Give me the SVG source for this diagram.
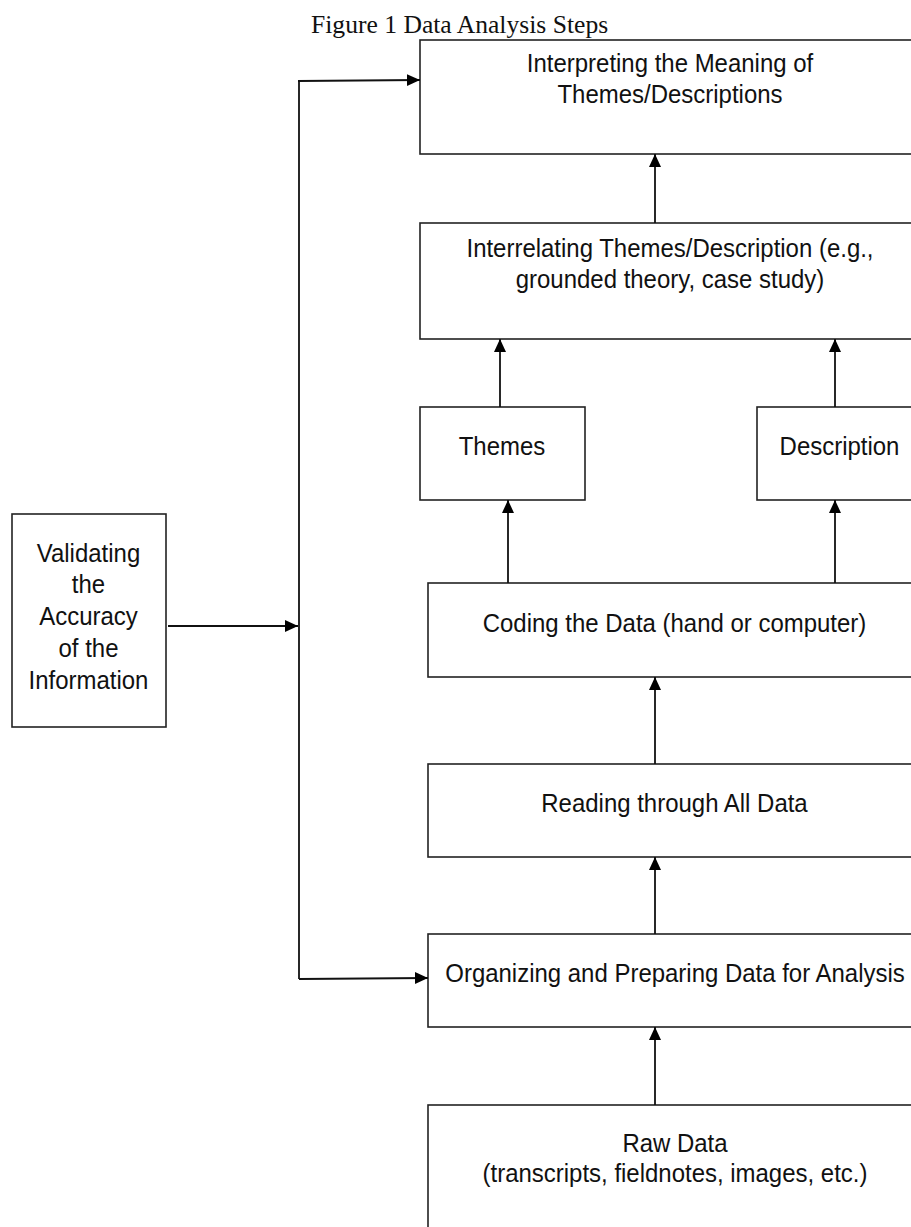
<svg xmlns="http://www.w3.org/2000/svg" width="911" height="1227" viewBox="0 0 911 1227">
<defs>
<marker id="ah" markerUnits="userSpaceOnUse" markerWidth="14" markerHeight="13" refX="13" refY="6" orient="auto">
<path d="M0,0 L13,6 L0,12 Z" fill="#000"/>
</marker>
<style>
.box{fill:#fff;stroke:#222;stroke-width:1.6}
.t{font-family:"Liberation Sans",Arial,sans-serif;font-size:25.5px;fill:#111;text-anchor:middle}
.c{fill:none;stroke:#111;stroke-width:1.8}
.title{font-family:"Liberation Serif","Times New Roman",serif;font-size:25.6px;fill:#111}
</style>
</defs>
<rect width="911" height="1227" fill="#fff"/>
<text class="title" x="311" y="33">Figure 1 Data Analysis Steps</text>
<g id="interpreting"><rect class="box" x="420" y="40" width="510" height="114"/><g transform="translate(670 0) scale(0.94 1)"><text class="t" x="0" y="72">Interpreting the Meaning of</text><text class="t" x="0" y="103">Themes/Descriptions</text></g></g>
<g id="interrelating"><rect class="box" x="420" y="223" width="510" height="116"/><g transform="translate(670 0) scale(0.94 1)"><text class="t" x="0" y="257">Interrelating Themes/Description (e.g.,</text><text class="t" x="0" y="288">grounded theory, case study)</text></g></g>
<g id="themes"><rect class="box" x="420" y="407" width="165" height="93"/><g transform="translate(502 0) scale(0.94 1)"><text class="t" x="0" y="455">Themes</text></g></g>
<g id="description"><rect class="box" x="757" y="407" width="173" height="93"/><g transform="translate(839.5 0) scale(0.94 1)"><text class="t" x="0" y="455">Description</text></g></g>
<g id="coding"><rect class="box" x="428" y="583" width="502" height="94"/><g transform="translate(674.5 0) scale(0.94 1)"><text class="t" x="0" y="632">Coding the Data (hand or computer)</text></g></g>
<g id="reading"><rect class="box" x="428" y="764" width="502" height="93"/><g transform="translate(674.5 0) scale(0.94 1)"><text class="t" x="0" y="812">Reading through All Data</text></g></g>
<g id="organizing"><rect class="box" x="428" y="934" width="502" height="93"/><g transform="translate(675 0) scale(0.94 1)"><text class="t" x="0" y="982">Organizing and Preparing Data for Analysis</text></g></g>
<g id="raw"><rect class="box" x="428" y="1105" width="502" height="140"/><g transform="translate(675 0) scale(0.94 1)"><text class="t" x="0" y="1152">Raw Data</text><text class="t" x="0" y="1182">(transcripts, fieldnotes, images, etc.)</text></g></g>
<g id="validating"><rect class="box" x="12" y="514" width="154" height="213"/><g transform="translate(88.5 0) scale(0.94 1)"><text class="t" x="0" y="562">Validating</text><text class="t" x="0" y="593">the</text><text class="t" x="0" y="625">Accuracy</text><text class="t" x="0" y="657">of the</text><text class="t" x="0" y="689">Information</text></g></g>
<g id="connectors">
<line class="c" x1="299" y1="81" x2="299" y2="979"/>
<line class="c" x1="298" y1="81" x2="420" y2="80" marker-end="url(#ah)"/>
<line class="c" x1="168" y1="626" x2="298" y2="626" marker-end="url(#ah)"/>
<line class="c" x1="299" y1="979" x2="428" y2="978" marker-end="url(#ah)"/>
<line class="c" x1="655" y1="223" x2="655" y2="154" marker-end="url(#ah)"/>
<line class="c" x1="500" y1="407" x2="500" y2="339" marker-end="url(#ah)"/>
<line class="c" x1="835" y1="407" x2="835" y2="339" marker-end="url(#ah)"/>
<line class="c" x1="508" y1="583" x2="508" y2="500" marker-end="url(#ah)"/>
<line class="c" x1="835" y1="583" x2="835" y2="500" marker-end="url(#ah)"/>
<line class="c" x1="655" y1="764" x2="655" y2="677" marker-end="url(#ah)"/>
<line class="c" x1="655" y1="934" x2="655" y2="857" marker-end="url(#ah)"/>
<line class="c" x1="655" y1="1105" x2="655" y2="1027" marker-end="url(#ah)"/>
</g>
</svg>
